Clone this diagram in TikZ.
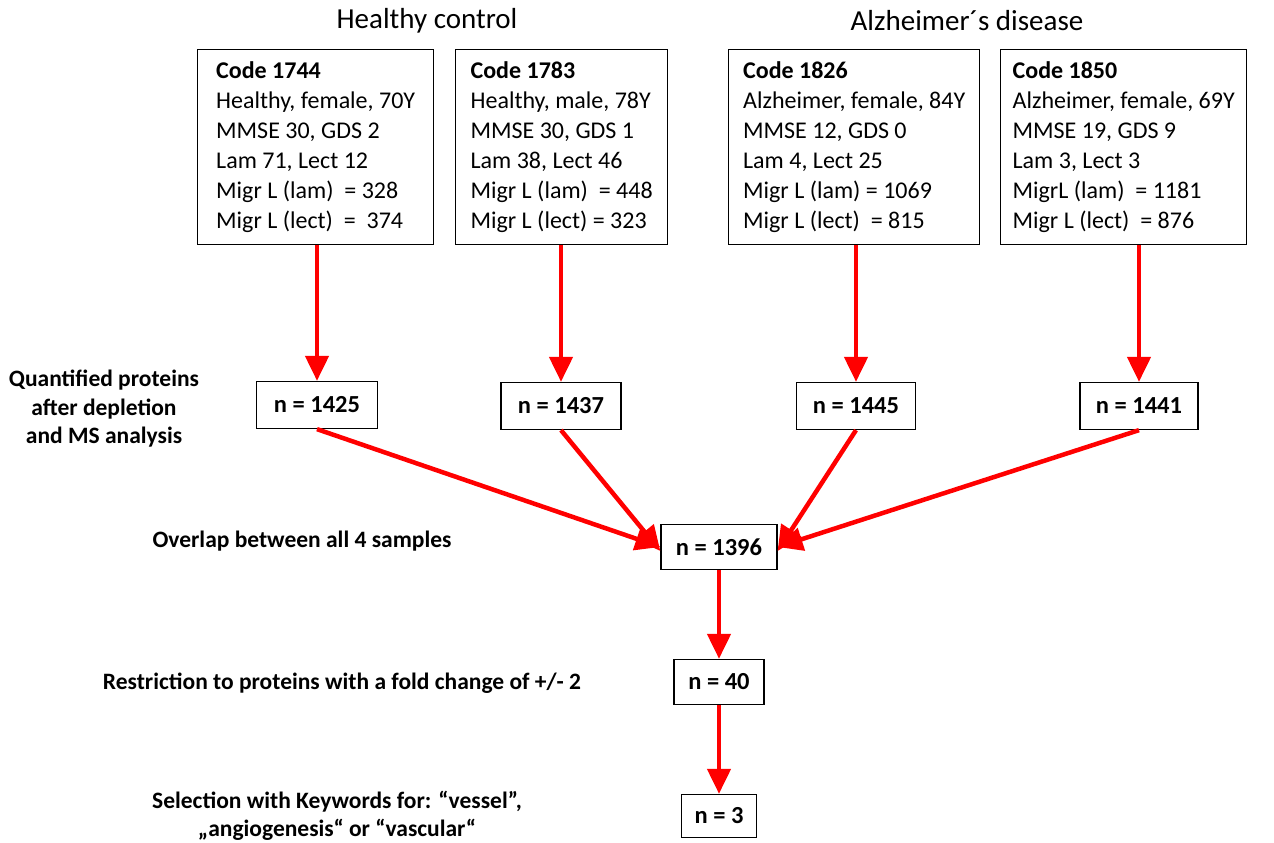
\documentclass[tikz,border=0pt]{standalone}
\usepackage{fontspec}
\setmainfont{Carlito}
\usepackage{tikz}
\usetikzlibrary{arrows.meta, positioning}
\definecolor{flowred}{HTML}{FF0000}

\begin{document}
\begin{tikzpicture}[x=1pt, y=-1pt, >={Triangle[length=25pt,width=23pt]},
  font=\fontsize{24}{30}\selectfont,
  donor/.style={draw, line width=1.3pt, align=left, inner xsep=0pt, minimum height=195pt, anchor=north west},
  count/.style={draw, line width=1.3pt, font=\fontsize{24.5}{28}\selectfont\bfseries, minimum height=47pt},
  steptext/.style={font=\fontsize{23.5}{28.5}\selectfont\bfseries, align=center},
  grouptitle/.style={font=\fontsize{29}{32}\selectfont},
  flow/.style={->, flowred, line width=4.5pt}]
  \useasboundingbox (0,0) rectangle (1274,843);
  % group titles
  \node[grouptitle] (hc) at (427,21) {Healthy control};
  \node[grouptitle] (ad) at (967,21) {Alzheimer´s disease};
  % donor boxes
  \node[donor, minimum width=236pt] (c1744) at (197,49)
    {\textbf{Code 1744}\\Healthy, female, 70Y\\MMSE 30, GDS 2\\Lam 71, Lect 12\\Migr L (lam)~ = 328\\Migr L (lect)~ = ~374};
  \node[donor, minimum width=212pt] (c1783) at (455,49)
    {\textbf{Code 1783}\\Healthy, male, 78Y\\MMSE 30, GDS 1\\Lam 38, Lect 46\\Migr L (lam)~ = 448\\Migr L (lect) = 323};
  \node[donor, minimum width=251pt] (c1826) at (728,49)
    {\textbf{Code 1826}\\Alzheimer, female, 84Y\\MMSE 12, GDS 0\\Lam 4, Lect 25\\Migr L (lam) = 1069\\Migr L (lect)~ = 815};
  \node[donor, minimum width=246pt] (c1850) at (1000,49)
    {\textbf{Code 1850}\\Alzheimer, female, 69Y\\MMSE 19, GDS 9\\Lam 3, Lect 3\\MigrL (lam)~ = 1181\\Migr L (lect)~ = 876};
  % protein counts
  \node[count, minimum width=121pt] (n1425) at (317,405) {n = 1425};
  \node[count, minimum width=120pt] (n1437) at (561,406) {n = 1437};
  \node[count, minimum width=119pt] (n1445) at (856,406) {n = 1445};
  \node[count, minimum width=118pt] (n1441) at (1139,406) {n = 1441};
  \node[count, minimum width=116pt, minimum height=45pt] (n1396) at (719,547) {n = 1396};
  \node[count, minimum width=90pt, minimum height=45pt] (n40) at (719,682) {n = 40};
  \node[count, minimum width=75pt, minimum height=43pt] (n3) at (719,816) {n = 3};
  % step labels
  \node[steptext] (quant) at (104,409) {Quantified proteins\\after depletion\\and MS analysis};
  \node[steptext] (overlap) at (302,541) {Overlap between all 4 samples};
  \node[steptext] (restr) at (342,683) {Restriction to proteins with a fold change of +/- 2};
  \node[steptext] (select) at (337,816) {Selection with Keywords for: “vessel”,\\„angiogenesis“ or “vascular“};
  % arrows
  \draw[flow] (c1744.south -| n1425) -- (n1425.north);
  \draw[flow] (c1783.south -| n1437) -- (n1437.north);
  \draw[flow] (c1826.south -| n1445) -- (n1445.north);
  \draw[flow] (c1850.south -| n1441) -- (n1441.north);
  \draw[flow] (n1425.south) -- (n1396.west);
  \draw[flow] (n1437.south) -- ([yshift=-4pt]n1396.west);
  \draw[flow] (n1445.south) -- ([yshift=-4pt]n1396.east);
  \draw[flow] (n1441.south) -- (n1396.east);
  \draw[flow] (n1396) -- (n40);
  \draw[flow] (n40) -- (n3);
\end{tikzpicture}
\end{document}
